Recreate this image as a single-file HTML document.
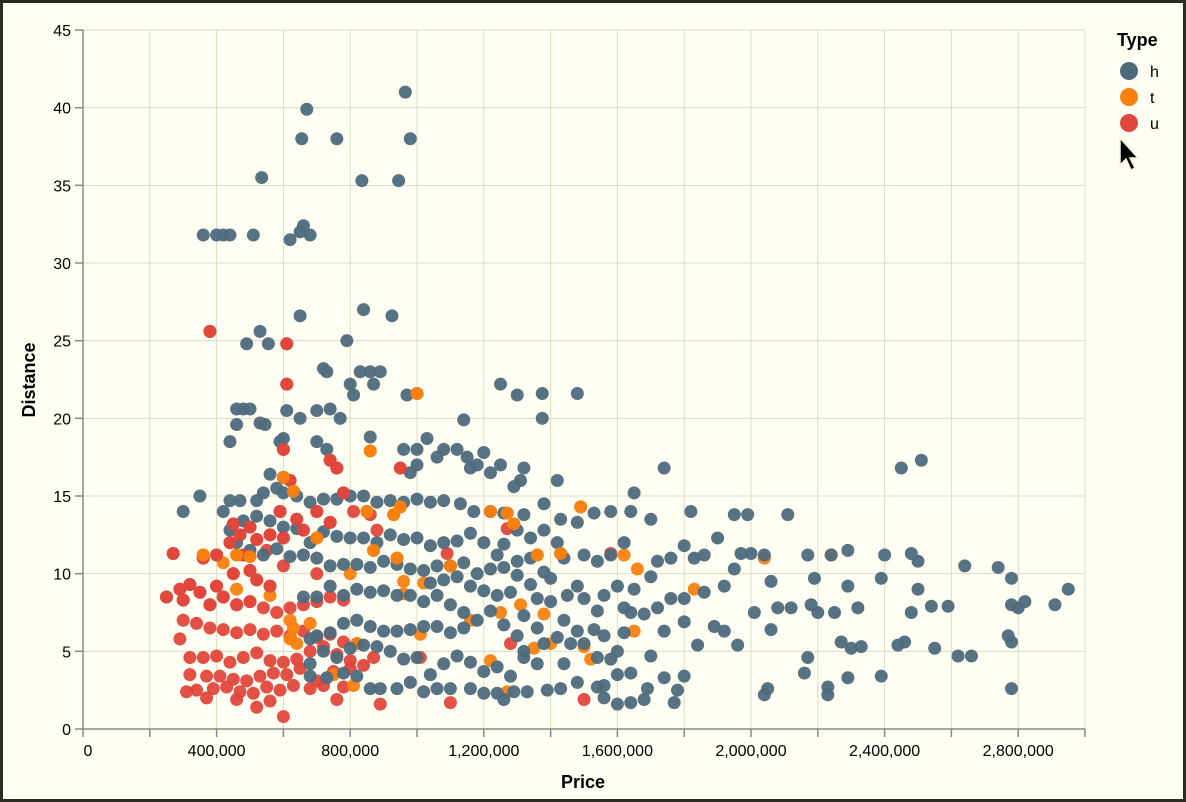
<!DOCTYPE html>
<html><head><meta charset="utf-8"><style>
html,body{margin:0;padding:0;background:#2b2b22;}
#wrap{position:absolute;left:3px;top:3px;width:1180px;height:796px;background:#fffff4;}
svg{position:absolute;left:0;top:0;}
text{font-family:"Liberation Sans",sans-serif;fill:#000;}
</style></head><body>
<div id="wrap"></div>
<svg id="chart" width="1186" height="802"></svg>
<script>
const xTicks=[0,200000,400000,600000,800000,1000000,1200000,1400000,1600000,1800000,2000000,2200000,2400000,2600000,2800000,3000000];
const xLabels=["0","","400,000","","800,000","","1,200,000","","1,600,000","","2,000,000","","2,400,000","","2,800,000",""];
const yTicks=[0,5,10,15,20,25,30,35,40,45];
const types=["h","t","u"];
const colors=["#4e6b7c","#f98110","#e0473c"];
// price in thousands, distance
const hPrice=[965,670,655,760,980,535,835,945,360,400,420,440,510,620,660,650,680,840,925,650,530,490,555,790,720,730,800,830,860,870,890,810,970,1250,1375,1300,1480,1375,1140,460,480,500,610,650,700,740,770,460,530,545,600,590,440,700,730,860,960,1000,1030,1080,1060,1120,1150,1200,1250,1320,1420,1740,2450,2510,1650,1290,1310,1180,1220,1160,1000,980,560,350,300,420,440,470,520,540,580,600,640,680,720,760,800,840,880,920,960,1000,1040,1080,1130,1170,1220,1260,1320,1380,1430,1480,1530,1580,1640,1700,1820,2110,1950,1990,1900,1800,1830,1860,1760,1720,1700,1650,1600,1560,1620,1540,1500,1480,1450,1400,1420,1380,1340,1300,1260,1240,1200,1160,1120,1080,1040,1000,960,920,880,840,800,760,720,680,640,600,560,520,480,440,460,500,540,580,620,660,700,740,780,820,860,900,940,980,1020,1060,1100,1140,1180,1220,1260,1300,1340,1380,1440,1500,1540,1580,1620,1950,1970,2000,2040,2170,2240,2290,2400,2480,2500,2640,2740,2780,2500,2390,2290,2190,2060,1920,1860,1800,1760,1720,1680,1640,2010,2080,2120,2180,2200,2250,2320,2480,2540,2590,2780,2800,2820,2910,2950,2770,2780,2620,2660,2550,2440,2460,2330,2300,2270,2170,2160,2290,2390,2230,2230,2050,2040,2780,2060,1960,1920,1890,1840,1800,1740,1700,1740,1690,1680,1770,1800,1780,1640,1600,1560,1640,1600,1620,1600,1560,1530,1500,1460,1420,1380,1360,1320,1300,1260,1220,1180,1140,1100,1060,1020,980,940,900,860,820,780,740,700,660,1140,1100,1060,1020,980,940,900,860,820,780,740,700,680,1000,960,920,880,840,800,760,720,680,1360,1320,1280,1240,1200,1160,1120,1080,1040,980,940,890,860,820,780,1020,1060,1100,1160,1200,1240,1260,1290,1330,1390,1430,1480,1540,1560,680,730,1400,1360,1320,1280,1240,1200,1160,1120,1080,1040,1340,1300,1440,1480,1540,1580,1440];
const hDist=[41,39.9,38,38,38,35.5,35.3,35.3,31.8,31.8,31.8,31.8,31.8,31.5,32.4,32,31.8,27,26.6,26.6,25.6,24.8,24.8,25,23.2,23,22.2,23,23,22.2,23,21.5,21.5,22.2,21.6,21.5,21.6,20,19.9,20.6,20.6,20.6,20.5,20,20.5,20.6,20,19.6,19.7,19.6,18.7,18.5,18.5,18.5,18,18.8,18,18,18.7,18,17.5,18,17.5,17.8,17,16.8,16,16.8,16.8,17.3,15.2,15.6,16,17,16.5,16.8,17,16.5,16.4,15,14,14,14.7,14.7,14.7,15.2,15.5,15.2,15,14.6,14.8,14.8,15,15,14.6,14.7,14.6,14.8,14.6,14.7,14.5,14,14,13.9,13.8,14.5,13.5,13.3,13.9,14,14,13.5,14,13.8,13.8,13.8,12.3,11.8,11,11.2,11,10.8,9.8,9,9.2,8.6,7.8,7.6,8.4,9.2,8.6,9.7,12,12.8,12.3,12.8,11.9,11.2,12,12.6,12.1,12,11.8,12.3,12.2,12.5,12,12.3,12.3,12.4,12.7,12,12.9,13,13.4,13.7,13.4,12.8,12,11.5,11.2,11.6,11.1,11.2,11,10.5,10.6,10.6,10.4,10.8,10.6,10.3,10.2,10.5,10.5,10.7,10,10.3,10.4,10.8,11,10.1,11,11.2,10.8,11.2,12,10.3,11.3,11.3,11.2,11.2,11.2,11.5,11.2,11.3,10.8,10.5,10.4,9.7,9,9.7,9.2,9.7,9.5,9.2,8.8,8.4,8.4,7.8,7.4,7.5,7.5,7.8,7.8,8,7.5,7.5,7.8,7.5,7.9,7.9,8,7.8,8.2,8,9,6,5.6,4.7,4.7,5.2,5.4,5.6,5.3,5.2,5.6,4.6,3.6,3.3,3.4,2.7,2.2,2.6,2.2,2.6,6.4,5.4,6.3,6.6,5.4,6.9,6.3,4.7,3.3,2.6,1.9,1.7,3.4,2.5,1.7,1.6,2.8,3.6,3.5,6.2,5,6,6.4,5.5,5.5,5.9,5.5,6.5,5,6,6.7,7.6,7,7.5,8,8.6,8.2,8.6,8.6,8.9,8.8,9,8.6,9.2,8.5,8.5,6.5,6.2,6.6,6.6,6.4,6.3,6.3,6.6,7,6.8,6.2,6,5.8,4.6,4.5,5,5.3,5.4,5.2,4.6,5,4.2,4.2,4.6,3.4,4,3.7,4.3,4.7,4.2,3.5,3,2.6,2.6,2.6,3.4,3.6,2.4,2.6,2.6,2.6,2.3,2.3,1.9,2.4,2.4,2.5,2.6,3,2.7,2,3.4,3.3,8.2,8.4,7.3,8.8,8.6,8.9,9.2,9.8,9.6,9.4,9.3,9.9,7,6.3,4.6,4.5,4.2];
const tPrice=[1000,860,600,630,850,930,950,1490,1220,1270,1290,460,360,500,700,870,940,1100,1360,1430,1660,1620,2040,2240,1830,1020,800,420,460,560,620,630,640,620,680,1010,1160,1250,1310,1350,1380,1220,1270,1520,1650,750,810,820,1400,1500,960,960];
const tDist=[21.6,17.9,16.2,15.3,14,13.8,14.3,14.3,14,13.9,13.2,11.2,11.2,11.1,12.3,11.5,11,10.5,11.2,11.3,10.3,11.2,11,11.2,9,9.4,10,10.7,9,8.6,7,6.5,5.5,5.8,6.8,6.1,7,7.5,8,5.2,7.4,4.4,2.4,4.5,6.3,3.5,2.8,5.5,5.5,5.3,8.7,9.5];
const uPrice=[380,610,610,600,600,620,760,740,950,780,590,640,700,740,500,450,470,440,520,560,600,660,480,400,360,270,500,450,520,560,400,320,290,250,300,350,380,420,460,500,540,580,620,660,700,740,780,300,340,380,420,460,500,540,580,620,660,700,740,780,820,290,320,360,400,440,480,520,560,600,640,680,720,760,800,840,870,320,370,410,450,490,530,570,610,650,700,750,800,340,310,390,430,470,510,550,590,630,680,720,780,370,460,520,560,600,760,890,1100,1500,1580,1090,1010,1280,1270,860,810,880,700,600,550];
const uDist=[25.6,24.8,22.2,18,16.2,16,16.8,17.3,16.8,15.2,14,13.5,14,13.3,13,13.2,12.5,12,12.2,12.5,12.3,12.8,11.2,11.2,11,11.3,10.2,10,9.6,9.2,9.2,9.3,9,8.5,8.3,8.8,8,8.5,8,8.2,7.8,7.5,7.8,8,8.2,8.5,8.3,7,6.8,6.5,6.4,6.2,6.4,6.1,6.3,6,6.3,5.9,6.1,5.6,5.5,5.8,4.6,4.6,4.7,4.3,4.6,4.9,4.4,4.3,4.5,5,5.3,4.8,4.4,4.1,4.6,3.5,3.4,3.4,3.2,3.1,3.4,3.6,3.5,3.9,3.1,3.7,3.9,2.5,2.4,2.6,2.7,2.4,2.3,2.7,2.5,2.8,2.6,2.8,2.7,2,1.9,1.4,1.8,0.8,1.9,1.6,1.7,1.9,11.3,11.3,4.6,5.5,12.9,13.8,14,12.8,10,10.5,11.5];

const NS="http://www.w3.org/2000/svg";
const svg=document.getElementById('chart');
const X0=83,X1=1085,Y0=729,Y1=30;
const xs=v=>X0+v/3000000*(X1-X0);
const ys=v=>Y0-v/45*(Y0-Y1);
function mk(tag,attrs,parent){const e=document.createElementNS(NS,tag);for(const k in attrs)e.setAttribute(k,attrs[k]);(parent||svg).appendChild(e);return e;}
const grid=mk('g',{});


xTicks.forEach(t=>{const l=mk('line',{x1:xs(t),x2:xs(t),y1:Y1,y2:Y0,stroke:'#dcdcc4','stroke-width':1},grid);

});
yTicks.forEach(t=>{const l=mk('line',{x1:X0,x2:X1,y1:ys(t),y2:ys(t),stroke:'#dcdcc4','stroke-width':1},grid);

});
const pts=mk('g',{});


function series(px,dy,ci,name){px.forEach((p,i)=>{const c=mk('circle',{cx:xs(p*1000),cy:ys(dy[i]),r:6.5,fill:colors[ci],'fill-opacity':0.95},pts);

});}
series(uPrice,uDist,2,'u');
series(tPrice,tDist,1,'t');
series(hPrice,hDist,0,'h');
// re-draw some u/t on top for mixing
series(uPrice.slice(0,40),uDist.slice(0,40),2,'u');
series(tPrice.slice(0,20),tDist.slice(0,20),1,'t');
const ax=mk('g',{});


mk('line',{x1:X0,x2:X0,y1:Y1,y2:Y0,stroke:'#888','stroke-width':1.5},ax);
mk('line',{x1:X0,x2:X1,y1:Y0,y2:Y0,stroke:'#888','stroke-width':1.5},ax);
yTicks.forEach(t=>{mk('line',{x1:X0-8,x2:X0,y1:ys(t),y2:ys(t),stroke:'#888','stroke-width':1.5},ax);
const tx=mk('text',{x:X0-12,y:ys(t)+6,'text-anchor':'end','font-size':16},ax);tx.textContent=t;

});
xTicks.forEach((t,i)=>{mk('line',{x1:xs(t),x2:xs(t),y1:Y0,y2:Y0+8,stroke:'#888','stroke-width':1.5},ax);
if(xLabels[i]){const tx=mk('text',{x:xs(t)+(t===0?5:0),y:Y0+27,'text-anchor':'middle','font-size':16},ax);tx.textContent=xLabels[i];

}});
const xt=mk('text',{x:583,y:788,'text-anchor':'middle','font-size':18,'font-weight':'bold'});xt.textContent='Price';


const yt=mk('text',{x:0,y:0,'text-anchor':'middle','font-size':18,'font-weight':'bold',transform:'translate(35,380) rotate(-90)'});yt.textContent='Distance';


const lg=mk('g',{});


const lt=mk('text',{x:1117,y:46,'font-size':18,'font-weight':'bold'},lg);lt.textContent='Type';


types.forEach((tp,i)=>{const g=mk('g',{},lg);


mk('circle',{cx:1129,cy:71+i*26,r:9,fill:colors[i]},g);
const t=mk('text',{x:1150,y:77+i*26,'font-size':16},g);t.textContent=tp;});
const cur=mk('path',{d:'M1120,138 L1120,165 L1126,159 L1131,170 L1135,168 L1130,158 L1138,158 Z',fill:'#000',stroke:'#f4f4d0','stroke-width':1.5});


</script>
</body></html>
